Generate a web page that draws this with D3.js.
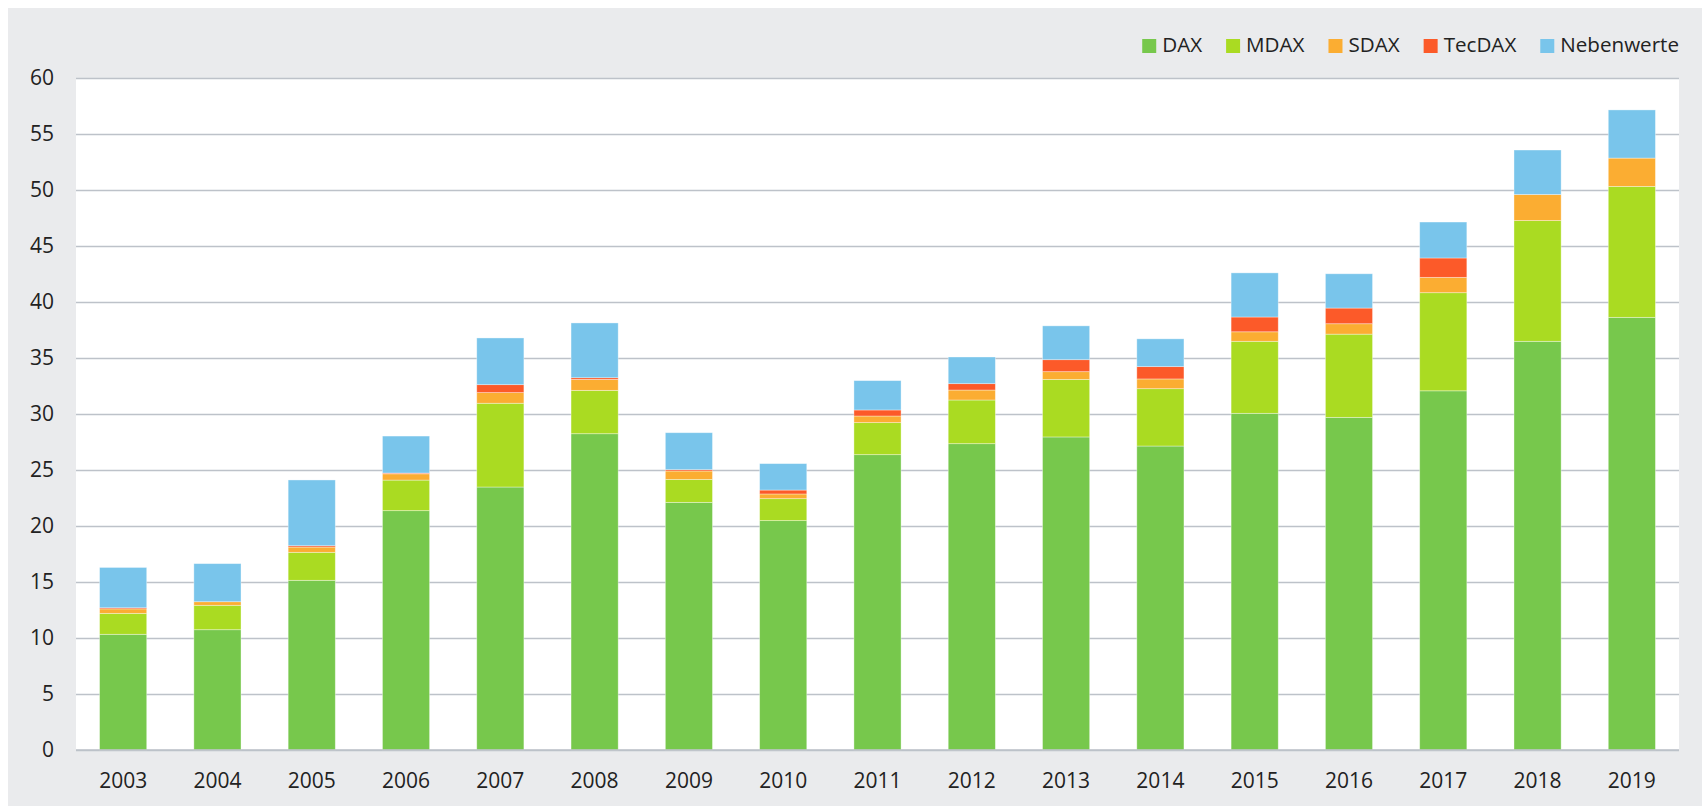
<!DOCTYPE html>
<html>
<head>
<meta charset="utf-8">
<script src="https://cdn.jsdelivr.net/npm/d3@7"></script>
<style>
  html, body { margin: 0; padding: 0; background: #ffffff; }
  svg { display: block; font-family: "Open Sans", "Noto Sans", sans-serif; }
</style>
</head>
<body>
<svg id="chart" width="1703" height="806"></svg>
<script>
const years = ["2003","2004","2005","2006","2007","2008","2009","2010","2011","2012","2013","2014","2015","2016","2017","2018","2019"];
const seriesNames = ["DAX","MDAX","SDAX","TecDAX","Nebenwerte"];
const dax        = [10.33,10.74,15.15,21.37,23.48,28.24,22.11,20.48,26.37,27.35,27.95,27.14,30.06,29.70,32.07,36.49,38.63];
const mdax       = [ 1.87, 2.18, 2.50, 2.73, 7.48, 3.87, 2.05, 1.96, 2.86, 3.90, 5.14, 5.12, 6.43, 7.43, 8.76,10.78,11.69];
const sdax       = [ 0.40, 0.32, 0.47, 0.56, 0.95, 0.98, 0.75, 0.42, 0.59, 0.89, 0.69, 0.87, 0.85, 0.93, 1.37, 2.33, 2.53];
const tecdax     = [ 0.10, 0.00, 0.12, 0.07, 0.71, 0.15, 0.12, 0.35, 0.54, 0.57, 1.07, 1.10, 1.32, 1.40, 1.73, 0.00, 0.00];
const nebenwerte = [ 3.60, 3.40, 5.87, 3.30, 4.17, 4.89, 3.30, 2.36, 2.62, 2.38, 3.02, 2.48, 3.94, 3.06, 3.21, 3.97, 4.30];
const yTicks = [0,5,10,15,20,25,30,35,40,45,50,55,60];
const colors = ["#77c84c","#aadb22","#fbad32","#fc5a29","#79c5eb"];

const table = years.map((y, i) => ({
  year: y, DAX: dax[i], MDAX: mdax[i], SDAX: sdax[i], TecDAX: tecdax[i], Nebenwerte: nebenwerte[i]
}));

const svg = d3.select("#chart");
const W = 1703, H = 806;
const plot = { left: 76, right: 1679, top: 78, bottom: 750 };

svg.append("rect").attr("x", 0).attr("y", 0).attr("width", W).attr("height", H).attr("fill", "#ffffff");
svg.append("rect").attr("x", 8).attr("y", 8).attr("width", 1694).attr("height", 800).attr("fill", "#eaebed");
svg.append("rect").attr("x", plot.left).attr("y", plot.top)
   .attr("width", plot.right - plot.left).attr("height", plot.bottom - plot.top).attr("fill", "#ffffff");

const x = d3.scaleBand().domain(years).range([plot.left, plot.right])
  .paddingInner(0.5).paddingOuter(0.25);
const y = d3.scaleLinear().domain([0, 60]).range([plot.bottom, plot.top]);
const color = d3.scaleOrdinal().domain(seriesNames).range(colors);

// gridlines
const yAxis = d3.axisLeft(y).tickValues(yTicks).tickSize(-(plot.right - plot.left)).tickPadding(22);
const gy = svg.append("g").attr("transform", `translate(${plot.left},0)`).call(yAxis);
gy.select(".domain").remove();
gy.selectAll(".tick line").attr("stroke", "#bdc2c9").attr("stroke-width", 1.6);
gy.selectAll(".tick text").attr("fill", "#222222").style("font-size", "21px")
  .style("font-family", "'Open Sans', sans-serif");

// stacked bars
const stack = d3.stack().keys(seriesNames);
const layers = stack(table);
svg.append("g").selectAll("g").data(layers).join("g")
  .attr("fill", d => color(d.key))
  .selectAll("rect").data(d => d).join("rect")
  .attr("x", d => x(d.data.year))
  .attr("width", x.bandwidth())
  .attr("y", d => y(d[1]))
  .attr("height", d => Math.max(0, y(d[0]) - y(d[1])))
  .attr("stroke", "rgba(255,255,255,0.45)")
  .attr("stroke-width", 0.8);

// x axis
const xAxis = d3.axisBottom(x).tickSize(0).tickPadding(23);
const gx = svg.append("g").attr("transform", `translate(0,${plot.bottom})`).call(xAxis);
gx.select(".domain").attr("stroke", "#bdc2c9").attr("stroke-width", 1.6)
  .attr("d", `M${plot.left},0H${plot.right}`);
gx.selectAll(".tick text").attr("fill", "#222222").style("font-size", "21px")
  .style("font-family", "'Open Sans', sans-serif");

// legend (right-aligned to plot edge)
const legend = svg.append("g");
const items = legend.selectAll("g").data(seriesNames).join("g");
items.append("rect").attr("width", 14).attr("height", 14).attr("y", 39)
  .attr("fill", d => color(d));
items.append("text").attr("x", 20).attr("y", 52).text(d => d)
  .attr("fill", "#222222").style("font-size", "20.6px");
const widths = [];
items.each(function() { widths.push(this.querySelector("text").getComputedTextLength()); });
let cursor = plot.right;
const xs = [];
for (let i = seriesNames.length - 1; i >= 0; i--) {
  const w = 20 + widths[i];
  cursor -= w;
  xs[i] = cursor;
  cursor -= 24;
}
items.attr("transform", (d, i) => `translate(${xs[i]},0)`);
</script>
</body>
</html>
